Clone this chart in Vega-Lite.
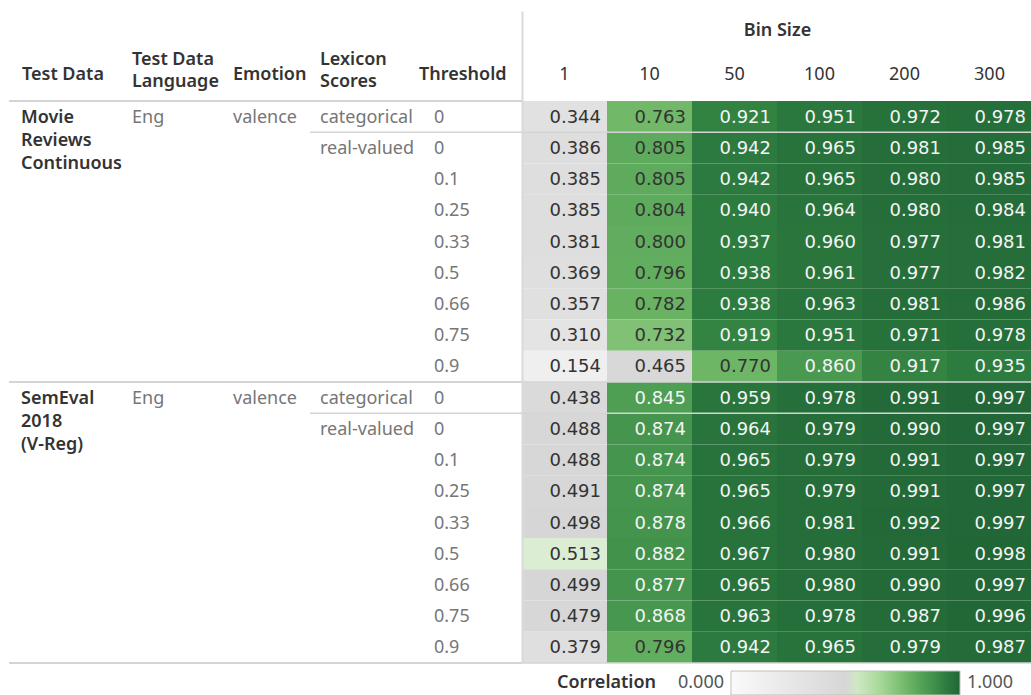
{
  "$schema": "https://vega.github.io/schema/vega-lite/v6.json",
  "padding": {"left": 8, "top": 10, "right": 0, "bottom": 0},
  "data": {"values": [
    {"row": 1, "ds": "Movie Reviews Continuous", "lang": "Eng", "emo": "valence", "lex": "categorical", "thr": "0", "1": 0.344, "10": 0.763, "50": 0.921, "100": 0.951, "200": 0.972, "300": 0.978},
    {"row": 2, "ds": "Movie Reviews Continuous", "lang": "Eng", "emo": "valence", "lex": "real-valued", "thr": "0", "1": 0.386, "10": 0.805, "50": 0.942, "100": 0.965, "200": 0.981, "300": 0.985},
    {"row": 3, "ds": "Movie Reviews Continuous", "lang": "Eng", "emo": "valence", "lex": "real-valued", "thr": "0.1", "1": 0.385, "10": 0.805, "50": 0.942, "100": 0.965, "200": 0.980, "300": 0.985},
    {"row": 4, "ds": "Movie Reviews Continuous", "lang": "Eng", "emo": "valence", "lex": "real-valued", "thr": "0.25", "1": 0.385, "10": 0.804, "50": 0.940, "100": 0.964, "200": 0.980, "300": 0.984},
    {"row": 5, "ds": "Movie Reviews Continuous", "lang": "Eng", "emo": "valence", "lex": "real-valued", "thr": "0.33", "1": 0.381, "10": 0.800, "50": 0.937, "100": 0.960, "200": 0.977, "300": 0.981},
    {"row": 6, "ds": "Movie Reviews Continuous", "lang": "Eng", "emo": "valence", "lex": "real-valued", "thr": "0.5", "1": 0.369, "10": 0.796, "50": 0.938, "100": 0.961, "200": 0.977, "300": 0.982},
    {"row": 7, "ds": "Movie Reviews Continuous", "lang": "Eng", "emo": "valence", "lex": "real-valued", "thr": "0.66", "1": 0.357, "10": 0.782, "50": 0.938, "100": 0.963, "200": 0.981, "300": 0.986},
    {"row": 8, "ds": "Movie Reviews Continuous", "lang": "Eng", "emo": "valence", "lex": "real-valued", "thr": "0.75", "1": 0.310, "10": 0.732, "50": 0.919, "100": 0.951, "200": 0.971, "300": 0.978},
    {"row": 9, "ds": "Movie Reviews Continuous", "lang": "Eng", "emo": "valence", "lex": "real-valued", "thr": "0.9", "1": 0.154, "10": 0.465, "50": 0.770, "100": 0.860, "200": 0.917, "300": 0.935},
    {"row": 10, "ds": "SemEval 2018 (V-Reg)", "lang": "Eng", "emo": "valence", "lex": "categorical", "thr": "0", "1": 0.438, "10": 0.845, "50": 0.959, "100": 0.978, "200": 0.991, "300": 0.997},
    {"row": 11, "ds": "SemEval 2018 (V-Reg)", "lang": "Eng", "emo": "valence", "lex": "real-valued", "thr": "0", "1": 0.488, "10": 0.874, "50": 0.964, "100": 0.979, "200": 0.990, "300": 0.997},
    {"row": 12, "ds": "SemEval 2018 (V-Reg)", "lang": "Eng", "emo": "valence", "lex": "real-valued", "thr": "0.1", "1": 0.488, "10": 0.874, "50": 0.965, "100": 0.979, "200": 0.991, "300": 0.997},
    {"row": 13, "ds": "SemEval 2018 (V-Reg)", "lang": "Eng", "emo": "valence", "lex": "real-valued", "thr": "0.25", "1": 0.491, "10": 0.874, "50": 0.965, "100": 0.979, "200": 0.991, "300": 0.997},
    {"row": 14, "ds": "SemEval 2018 (V-Reg)", "lang": "Eng", "emo": "valence", "lex": "real-valued", "thr": "0.33", "1": 0.498, "10": 0.878, "50": 0.966, "100": 0.981, "200": 0.992, "300": 0.997},
    {"row": 15, "ds": "SemEval 2018 (V-Reg)", "lang": "Eng", "emo": "valence", "lex": "real-valued", "thr": "0.5", "1": 0.513, "10": 0.882, "50": 0.967, "100": 0.980, "200": 0.991, "300": 0.998},
    {"row": 16, "ds": "SemEval 2018 (V-Reg)", "lang": "Eng", "emo": "valence", "lex": "real-valued", "thr": "0.66", "1": 0.499, "10": 0.877, "50": 0.965, "100": 0.980, "200": 0.990, "300": 0.997},
    {"row": 17, "ds": "SemEval 2018 (V-Reg)", "lang": "Eng", "emo": "valence", "lex": "real-valued", "thr": "0.75", "1": 0.479, "10": 0.868, "50": 0.963, "100": 0.978, "200": 0.987, "300": 0.996},
    {"row": 18, "ds": "SemEval 2018 (V-Reg)", "lang": "Eng", "emo": "valence", "lex": "real-valued", "thr": "0.9", "1": 0.379, "10": 0.796, "50": 0.942, "100": 0.965, "200": 0.979, "300": 0.987}
  ]},
  "spacing": 0,
  "bounds": "flush",
  "hconcat": [
    {
      "width": 113, "height": 562,
      "layer": [
        {
          "transform": [{"aggregate": [{"op": "min", "field": "row", "as": "row"}], "groupby": ["ds"]}],
          "mark": {"type": "text", "align": "left", "baseline": "top", "dx": 12, "dy": 8, "lineBreak": " ", "lineHeight": 23, "fontSize": 18, "fontWeight": 600, "color": "#333333"},
          "encoding": {
            "x": {"datum": "Test Data", "type": "nominal", "bandPosition": 0, "scale": {"type": "band", "paddingInner": 0, "paddingOuter": 0},
                  "axis": {"orient": "top", "title": null, "labelAngle": 0, "labelAlign": "left", "labelBaseline": "middle", "labelFontSize": 18, "labelFontWeight": 600, "labelColor": "#333333", "labelPadding": 27, "labelOffset": -43.5, "domain": false, "ticks": false, "labelExpr": "split(datum.value, '|')", "labelLineHeight": 22}},
            "y": {"field": "row", "type": "ordinal", "bandPosition": 0, "scale": {"type": "band", "domain": [1,2,3,4,5,6,7,8,9,10,11,12,13,14,15,16,17,18], "paddingInner": 0, "paddingOuter": 0}, "axis": null},
            "text": {"field": "ds"}
          }
        },
        {
          "transform": [{"aggregate": [{"op": "min", "field": "row", "as": "row"}], "groupby": ["ds"]}],
          "mark": {"type": "rule", "color": "#d4d4d4", "strokeWidth": 2},
          "encoding": {"y": {"field": "row", "type": "ordinal", "bandPosition": 0, "scale": {"type": "band", "domain": [1,2,3,4,5,6,7,8,9,10,11,12,13,14,15,16,17,18], "paddingInner": 0, "paddingOuter": 0}, "axis": null}}
        },
        {
          "transform": [{"aggregate": [{"op": "max", "field": "row", "as": "row"}]}],
          "mark": {"type": "rule", "color": "#d4d4d4", "strokeWidth": 2},
          "encoding": {"y": {"field": "row", "type": "ordinal", "bandPosition": 1, "scale": {"type": "band", "domain": [1,2,3,4,5,6,7,8,9,10,11,12,13,14,15,16,17,18], "paddingInner": 0, "paddingOuter": 0}, "axis": null}}
        }
      ]
    },
    {
      "width": 101, "height": 562,
      "layer": [
        {
          "transform": [{"aggregate": [{"op": "min", "field": "row", "as": "row"}], "groupby": ["ds", "lang"]}],
          "mark": {"type": "text", "align": "left", "baseline": "middle", "dx": 10, "dy": 1, "fontSize": 18, "color": "#767676"},
          "encoding": {
            "x": {"datum": "Test Data|Language", "type": "nominal", "bandPosition": 0, "scale": {"type": "band", "paddingInner": 0, "paddingOuter": 0},
                  "axis": {"orient": "top", "title": null, "labelAngle": 0, "labelAlign": "left", "labelBaseline": "middle", "labelFontSize": 18, "labelFontWeight": 600, "labelColor": "#333333", "labelPadding": 42, "labelOffset": -40.5, "domain": false, "ticks": false, "labelExpr": "split(datum.value, '|')", "labelLineHeight": 22}},
            "y": {"field": "row", "type": "ordinal", "scale": {"type": "band", "domain": [1,2,3,4,5,6,7,8,9,10,11,12,13,14,15,16,17,18], "paddingInner": 0, "paddingOuter": 0}, "axis": null},
            "text": {"field": "lang"}
          }
        },
        {
          "transform": [{"aggregate": [{"op": "min", "field": "row", "as": "row"}], "groupby": ["ds"]}],
          "mark": {"type": "rule", "color": "#d4d4d4", "strokeWidth": 2},
          "encoding": {"y": {"field": "row", "type": "ordinal", "bandPosition": 0, "scale": {"type": "band", "domain": [1,2,3,4,5,6,7,8,9,10,11,12,13,14,15,16,17,18], "paddingInner": 0, "paddingOuter": 0}, "axis": null}}
        },
        {
          "transform": [{"aggregate": [{"op": "max", "field": "row", "as": "row"}]}],
          "mark": {"type": "rule", "color": "#d4d4d4", "strokeWidth": 2},
          "encoding": {"y": {"field": "row", "type": "ordinal", "bandPosition": 1, "scale": {"type": "band", "domain": [1,2,3,4,5,6,7,8,9,10,11,12,13,14,15,16,17,18], "paddingInner": 0, "paddingOuter": 0}, "axis": null}}
        }
      ]
    },
    {
      "width": 87, "height": 562,
      "layer": [
        {
          "transform": [{"aggregate": [{"op": "min", "field": "row", "as": "row"}], "groupby": ["ds", "emo"]}],
          "mark": {"type": "text", "align": "left", "baseline": "middle", "dx": 10, "dy": 1, "fontSize": 18, "color": "#767676"},
          "encoding": {
            "x": {"datum": "Emotion", "type": "nominal", "bandPosition": 0, "scale": {"type": "band", "paddingInner": 0, "paddingOuter": 0},
                  "axis": {"orient": "top", "title": null, "labelAngle": 0, "labelAlign": "left", "labelBaseline": "middle", "labelFontSize": 18, "labelFontWeight": 600, "labelColor": "#333333", "labelPadding": 27, "labelOffset": -33.5, "domain": false, "ticks": false, "labelExpr": "split(datum.value, '|')", "labelLineHeight": 22}},
            "y": {"field": "row", "type": "ordinal", "scale": {"type": "band", "domain": [1,2,3,4,5,6,7,8,9,10,11,12,13,14,15,16,17,18], "paddingInner": 0, "paddingOuter": 0}, "axis": null},
            "text": {"field": "emo"}
          }
        },
        {
          "transform": [{"aggregate": [{"op": "min", "field": "row", "as": "row"}], "groupby": ["ds"]}],
          "mark": {"type": "rule", "color": "#d4d4d4", "strokeWidth": 2},
          "encoding": {"y": {"field": "row", "type": "ordinal", "bandPosition": 0, "scale": {"type": "band", "domain": [1,2,3,4,5,6,7,8,9,10,11,12,13,14,15,16,17,18], "paddingInner": 0, "paddingOuter": 0}, "axis": null}}
        },
        {
          "transform": [{"aggregate": [{"op": "max", "field": "row", "as": "row"}]}],
          "mark": {"type": "rule", "color": "#d4d4d4", "strokeWidth": 2},
          "encoding": {"y": {"field": "row", "type": "ordinal", "bandPosition": 1, "scale": {"type": "band", "domain": [1,2,3,4,5,6,7,8,9,10,11,12,13,14,15,16,17,18], "paddingInner": 0, "paddingOuter": 0}, "axis": null}}
        }
      ]
    },
    {
      "width": 114, "height": 562,
      "layer": [
        {
          "transform": [{"aggregate": [{"op": "min", "field": "row", "as": "row"}], "groupby": ["ds", "lex"]}],
          "mark": {"type": "text", "align": "left", "baseline": "middle", "dx": 10, "dy": 1, "fontSize": 18, "color": "#767676"},
          "encoding": {
            "x": {"datum": "Lexicon|Scores", "type": "nominal", "bandPosition": 0, "scale": {"type": "band", "paddingInner": 0, "paddingOuter": 0},
                  "axis": {"orient": "top", "title": null, "labelAngle": 0, "labelAlign": "left", "labelBaseline": "middle", "labelFontSize": 18, "labelFontWeight": 600, "labelColor": "#333333", "labelPadding": 42, "labelOffset": -47, "domain": false, "ticks": false, "labelExpr": "split(datum.value, '|')", "labelLineHeight": 22}},
            "y": {"field": "row", "type": "ordinal", "scale": {"type": "band", "domain": [1,2,3,4,5,6,7,8,9,10,11,12,13,14,15,16,17,18], "paddingInner": 0, "paddingOuter": 0}, "axis": null},
            "text": {"field": "lex"}
          }
        },
        {
          "transform": [{"aggregate": [{"op": "min", "field": "row", "as": "row"}], "groupby": ["ds", "lex"]}],
          "mark": {"type": "rule", "color": "#d4d4d4", "strokeWidth": 1.5},
          "encoding": {"y": {"field": "row", "type": "ordinal", "bandPosition": 0, "scale": {"type": "band", "domain": [1,2,3,4,5,6,7,8,9,10,11,12,13,14,15,16,17,18], "paddingInner": 0, "paddingOuter": 0}, "axis": null}}
        },
        {
          "transform": [{"aggregate": [{"op": "min", "field": "row", "as": "row"}], "groupby": ["ds"]}],
          "mark": {"type": "rule", "color": "#d4d4d4", "strokeWidth": 2},
          "encoding": {"y": {"field": "row", "type": "ordinal", "bandPosition": 0, "scale": {"type": "band", "domain": [1,2,3,4,5,6,7,8,9,10,11,12,13,14,15,16,17,18], "paddingInner": 0, "paddingOuter": 0}, "axis": null}}
        },
        {
          "transform": [{"aggregate": [{"op": "max", "field": "row", "as": "row"}]}],
          "mark": {"type": "rule", "color": "#d4d4d4", "strokeWidth": 2},
          "encoding": {"y": {"field": "row", "type": "ordinal", "bandPosition": 1, "scale": {"type": "band", "domain": [1,2,3,4,5,6,7,8,9,10,11,12,13,14,15,16,17,18], "paddingInner": 0, "paddingOuter": 0}, "axis": null}}
        }
      ]
    },
    {
      "width": 98, "height": 562,
      "layer": [
        {
          "mark": {"type": "text", "align": "left", "baseline": "middle", "dx": 10, "dy": 1, "fontSize": 18, "color": "#767676"},
          "encoding": {
            "x": {"datum": "Threshold", "type": "nominal", "bandPosition": 0, "scale": {"type": "band", "paddingInner": 0, "paddingOuter": 0},
                  "axis": {"orient": "top", "title": null, "labelAngle": 0, "labelAlign": "left", "labelBaseline": "middle", "labelFontSize": 18, "labelFontWeight": 600, "labelColor": "#333333", "labelPadding": 27, "labelOffset": -54, "domain": false, "ticks": false, "labelExpr": "split(datum.value, '|')", "labelLineHeight": 22}},
            "y": {"field": "row", "type": "ordinal", "scale": {"type": "band", "domain": [1,2,3,4,5,6,7,8,9,10,11,12,13,14,15,16,17,18], "paddingInner": 0, "paddingOuter": 0}, "axis": null},
            "text": {"field": "thr"}
          }
        },
        {
          "transform": [{"aggregate": [{"op": "min", "field": "row", "as": "row"}], "groupby": ["ds", "lex"]}],
          "mark": {"type": "rule", "color": "#d4d4d4", "strokeWidth": 1.5},
          "encoding": {"y": {"field": "row", "type": "ordinal", "bandPosition": 0, "scale": {"type": "band", "domain": [1,2,3,4,5,6,7,8,9,10,11,12,13,14,15,16,17,18], "paddingInner": 0, "paddingOuter": 0}, "axis": null}}
        },
        {
          "transform": [{"aggregate": [{"op": "min", "field": "row", "as": "row"}], "groupby": ["ds"]}],
          "mark": {"type": "rule", "color": "#d4d4d4", "strokeWidth": 2},
          "encoding": {"y": {"field": "row", "type": "ordinal", "bandPosition": 0, "scale": {"type": "band", "domain": [1,2,3,4,5,6,7,8,9,10,11,12,13,14,15,16,17,18], "paddingInner": 0, "paddingOuter": 0}, "axis": null}}
        },
        {
          "transform": [{"aggregate": [{"op": "max", "field": "row", "as": "row"}]}],
          "mark": {"type": "rule", "color": "#d4d4d4", "strokeWidth": 2},
          "encoding": {"y": {"field": "row", "type": "ordinal", "bandPosition": 1, "scale": {"type": "band", "domain": [1,2,3,4,5,6,7,8,9,10,11,12,13,14,15,16,17,18], "paddingInner": 0, "paddingOuter": 0}, "axis": null}}
        }
      ]
    },
    {
      "width": 510, "height": 562,
      "layer": [
        {
          "transform": [{"fold": ["1", "10", "50", "100", "200", "300"], "as": ["bin", "r"]}],
          "mark": {"type": "rect", "y2Offset": 1},
          "encoding": {
            "x": {"field": "bin", "type": "nominal", "sort": ["1", "10", "50", "100", "200", "300"], "scale": {"type": "band", "paddingInner": 0, "paddingOuter": 0},
                  "axis": {"orient": "top", "title": "Bin Size", "titleFontSize": 18, "titleFontWeight": 600, "titleColor": "#333333", "titleY": -71, "titleBaseline": "middle",
                           "labelAngle": 0, "labelFontSize": 18, "labelColor": "#333333", "labelBaseline": "middle", "labelAlign": "center", "labelPadding": -63, "labelOffset": 0, "bandPosition": 0,
                           "domain": false, "ticks": true, "tickSize": 90, "tickWidth": 2,
                           "tickColor": {"condition": {"test": "datum.value === '1'", "value": "#d9d9d9"}, "value": "rgba(0,0,0,0)"}}},
            "y": {"field": "row", "type": "ordinal", "scale": {"type": "band", "domain": [1,2,3,4,5,6,7,8,9,10,11,12,13,14,15,16,17,18], "paddingInner": 0, "paddingOuter": 0},
                  "axis": {"title": null, "labels": false, "ticks": false, "domain": true, "domainColor": "#d9d9d9", "domainWidth": 2, "grid": false, "zindex": 1}},
            "color": {"field": "r", "type": "quantitative",
                      "scale": {"type": "linear", "domain": [0, 0.5, 0.5001, 0.65, 0.77, 0.845, 0.88, 0.93, 0.97, 1],
                                "range": ["#fafafa", "#d6d6d6", "#e0f0da", "#a8d99a", "#6db665", "#4e9e54", "#43934d", "#2e7e40", "#27723b", "#216636"]},
                      "legend": {"orient": "none", "legendX": 548, "legendY": 570, "direction": "horizontal", "title": "Correlation", "titleOrient": "left",
                                 "titleFontSize": 18, "titleFontWeight": 600, "titleColor": "#333333", "titlePadding": 75,
                                 "gradientLength": 229, "gradientThickness": 24, "gradientStrokeColor": "#c0c0b8", "gradientStrokeWidth": 1,
                                 "values": [0, 1], "format": ".3f", "labelFontSize": 18, "labelColor": "#555555", "labelOffset": -12, "padding": 0,
                                 "encode": {"labels": {"update": {"align": {"signal": "datum.perc > 0.5 ? 'left' : 'right'"}, "dx": {"signal": "datum.perc > 0.5 ? 7 : -7"}, "baseline": {"value": "middle"}}}}}}
          }
        },
        {
          "transform": [{"fold": ["1", "10", "50", "100", "200", "300"], "as": ["bin", "r"]}],
          "mark": {"type": "text", "align": "right", "baseline": "middle", "dx": -6, "dy": 1, "fontSize": 18, "font": "DejaVu Sans"},
          "encoding": {
            "x": {"field": "bin", "type": "nominal", "sort": ["1", "10", "50", "100", "200", "300"], "bandPosition": 1, "scale": {"type": "band", "paddingInner": 0, "paddingOuter": 0}},
            "y": {"field": "row", "type": "ordinal", "scale": {"type": "band", "domain": [1,2,3,4,5,6,7,8,9,10,11,12,13,14,15,16,17,18], "paddingInner": 0, "paddingOuter": 0}},
            "text": {"field": "r", "type": "quantitative", "format": ".3f"},
            "color": {"condition": {"test": "datum.r >= 0.83", "value": "#f4f4f4"}, "value": "#333333"}
          }
        },
        {
          "transform": [{"aggregate": [{"op": "min", "field": "row", "as": "row"}], "groupby": ["ds", "lex"]}, {"filter": "datum.row > 1"}],
          "mark": {"type": "rule", "color": "#d4d4d4", "strokeWidth": 1.5},
          "encoding": {"y": {"field": "row", "type": "ordinal", "bandPosition": 0, "scale": {"type": "band", "domain": [1,2,3,4,5,6,7,8,9,10,11,12,13,14,15,16,17,18], "paddingInner": 0, "paddingOuter": 0}}}
        },
        {
          "transform": [{"aggregate": [{"op": "max", "field": "row", "as": "row"}]}],
          "mark": {"type": "rule", "color": "#d4d4d4", "strokeWidth": 1.5},
          "encoding": {"y": {"field": "row", "type": "ordinal", "bandPosition": 1, "scale": {"type": "band", "domain": [1,2,3,4,5,6,7,8,9,10,11,12,13,14,15,16,17,18], "paddingInner": 0, "paddingOuter": 0}}}
        }
      ]
    }
  ],
  "config": {
    "view": {"stroke": null},
    "font": "Noto Sans",
    "text": {"font": "Noto Sans"},
    "axis": {"labelFont": "Noto Sans", "titleFont": "Noto Sans"},
    "legend": {"labelFont": "Noto Sans", "titleFont": "Noto Sans"}
  }
}
